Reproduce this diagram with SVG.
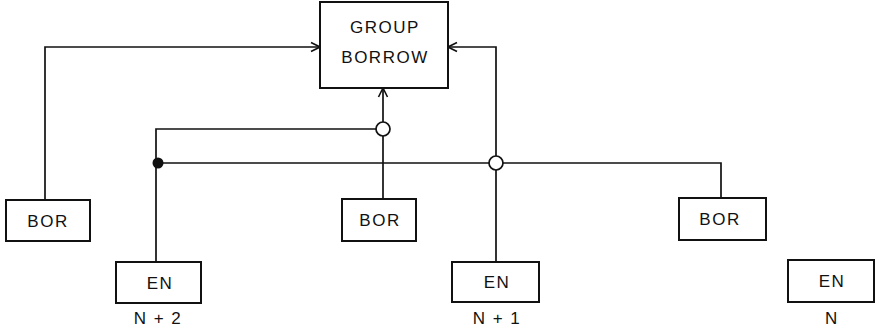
<svg xmlns="http://www.w3.org/2000/svg" width="876" height="328" viewBox="0 0 876 328">
<style>
.box{fill:#fff;stroke:#111;stroke-width:2}
.ln{fill:none;stroke:#111;stroke-width:1.7}
.t{font-family:"Liberation Sans",Arial,sans-serif;font-size:17px;fill:#111;text-anchor:middle;letter-spacing:1.5px}
</style>
<defs>
<marker id="arr" viewBox="0 0 12 12" refX="11" refY="6" markerWidth="12" markerHeight="12" markerUnits="userSpaceOnUse" orient="auto">
<polyline points="2,1.5 11,6 2,10.5" fill="none" stroke="#111" stroke-width="1.6"/>
</marker>
</defs>
<g id="connectors">
<polyline class="ln" points="45,200 45,47 320,47" marker-end="url(#arr)"/>
<polyline class="ln" points="496,262 496,47 448,47" marker-end="url(#arr)"/>
<polyline class="ln" points="383,199 383,88" marker-end="url(#arr)"/>
<polyline class="ln" points="156,262 156,129 383,129"/>
<polyline class="ln" points="158,163 721,163 721,198"/>
<circle cx="383" cy="129" r="7" fill="#fff" stroke="#111" stroke-width="1.7"/>
<circle cx="496" cy="163" r="7" fill="#fff" stroke="#111" stroke-width="1.7"/>
<circle cx="158" cy="163" r="5.5" fill="#111"/>
</g>
<g id="group-borrow">
<rect class="box" x="320" y="2" width="128" height="86"/>
<text class="t" x="385" y="33">GROUP</text>
<text class="t" x="385" y="63">BORROW</text>
</g>
<g id="bor-left">
<rect class="box" x="6" y="200" width="84" height="41"/>
<text class="t" x="48" y="227">BOR</text>
</g>
<g id="bor-mid">
<rect class="box" x="342" y="199" width="74" height="42"/>
<text class="t" x="380" y="226">BOR</text>
</g>
<g id="bor-right">
<rect class="box" x="679" y="198" width="87" height="42"/>
<text class="t" x="720" y="225">BOR</text>
</g>
<g id="en-n2">
<rect class="box" x="116" y="262" width="85" height="41"/>
<text class="t" x="160" y="289">EN</text>
<text class="t" x="158" y="324">N + 2</text>
</g>
<g id="en-n1">
<rect class="box" x="452" y="262" width="87" height="40"/>
<text class="t" x="497" y="288">EN</text>
<text class="t" x="497" y="324">N + 1</text>
</g>
<g id="en-n">
<rect class="box" x="788" y="260" width="86" height="42"/>
<text class="t" x="832" y="287">EN</text>
<text class="t" x="832" y="324">N</text>
</g>
</svg>
